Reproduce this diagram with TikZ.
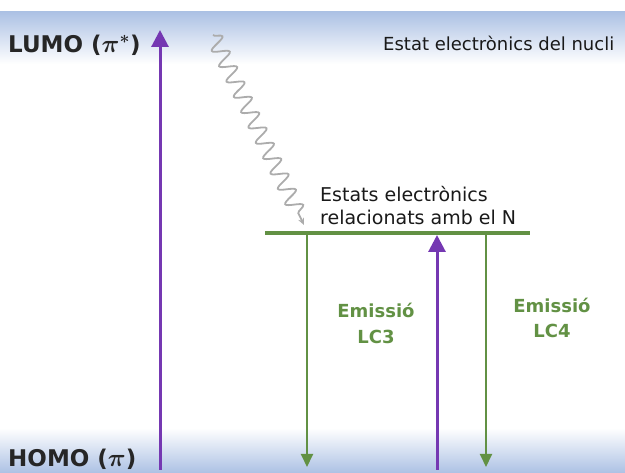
\documentclass[tikz,border=0pt]{standalone}
\usepackage{fontspec}
\setmainfont{DejaVu Sans}
\usetikzlibrary{arrows.meta,positioning,decorations.pathmorphing}
\definecolor{absviolet}{RGB}{117,56,178}
\definecolor{emgreen}{RGB}{98,145,68}
\definecolor{bandblue}{RGB}{172,193,228}

\begin{document}
\begin{tikzpicture}[x=1pt, y=-1pt,
    absarr/.style={-{Triangle[length=17pt,width=17pt]}, line width=3pt, absviolet},
    emarr/.style={-{Triangle[length=13pt,width=12pt]}, line width=2pt, emgreen},
    lvl/.style={line width=4pt, emgreen},
    relaxarr/.style={-{Stealth[length=7pt,width=6pt]}, gray!65, line width=1.8pt, decorate,
        decoration={snake, segment length=17pt, amplitude=8pt, post length=10pt}},
    orb/.style={font=\fontsize{23}{26}\selectfont\bfseries\boldmath, text=black!85, inner sep=0pt, anchor=base west},
    lbl/.style={font=\fontsize{19}{23}\selectfont, text=black!90, inner sep=0pt, anchor=base west},
    emlbl/.style={font=\fontsize{18}{22}\selectfont\bfseries, text=emgreen, inner sep=0pt, anchor=base}
]
\useasboundingbox (0,0) rectangle (625,473);

% bands
\shade[top color=bandblue, bottom color=white] (0,12) rectangle (625,64);
\shade[top color=white, bottom color=bandblue] (0,428) rectangle (625,473);

% labels
\node[orb] (lumo) at (8,53) {LUMO ($\pi^{*}$)};
\node[orb] (homo) at (8,467) {HOMO ($\pi$)};
\node[lbl, font=\fontsize{18}{22}\selectfont] (nucli) at (383,51) {Estat electrònics del nucli};
\node[lbl] (estN1) at (320,202) {Estats electrònics};
\node[lbl] (estN2) at (320,225) {relacionats amb el N};
\node[emlbl] (em3) at (376,318) {Emissió};
\node[emlbl] (lc3) at (376,344) {LC3};
\node[emlbl] (em4) at (552,313) {Emissió};
\node[emlbl] (lc4) at (552,338) {LC4};

% ends of arrows
\coordinate (absLbot) at (160,470);
\coordinate (absLtop) at (160,30);
\coordinate (absRbot) at (437,470);
\coordinate (absRtop) at (437,235);
\coordinate (em3top) at (307,235);
\coordinate (em3bot) at (307,467);
\coordinate (em4top) at (486,235);
\coordinate (em4bot) at (486,467);
\coordinate (wavetop) at (213,35);
\coordinate (wavebot) at (304,225);
\coordinate (lvlL) at (265,233);
\coordinate (lvlR) at (530,233);

\draw[absarr] (absLbot) -- (absLtop);
\draw[absarr] (absRbot) -- (absRtop);
\draw[emarr] (em3top) -- (em3bot);
\draw[emarr] (em4top) -- (em4bot);
\draw[relaxarr] (wavetop) -- (wavebot);
\draw[lvl] (lvlL) -- (lvlR);
\end{tikzpicture}
\end{document}
